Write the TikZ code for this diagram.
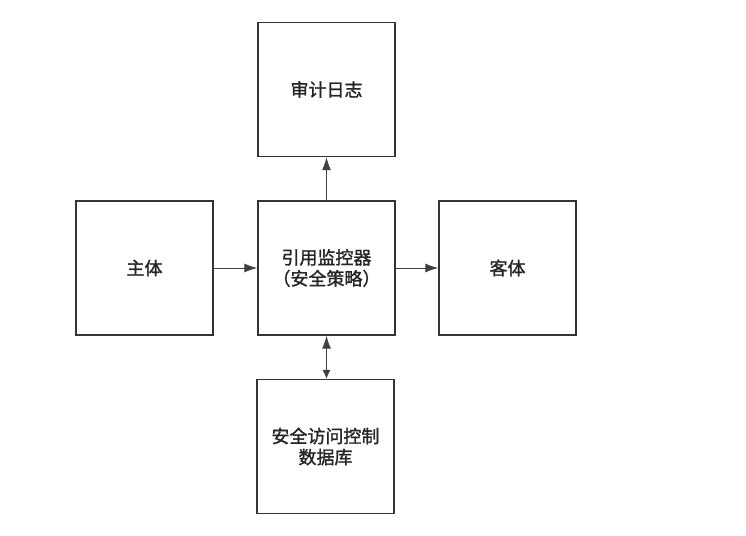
\documentclass[tikz,border=0pt]{standalone}
\usepackage{fontspec}
\setmainfont[FakeBold=1.5]{Noto Sans CJK SC}
\usetikzlibrary{arrows.meta}
\tikzset{
  blockbox/.style={draw=black!80, line width=1.3pt, minimum width=137pt, minimum height=134pt, inner sep=0pt, align=center, font=\fontsize{18}{21}\selectfont, text=black!85},
  conn/.style={draw=black!75, line width=1pt, -{Latex[length=13pt,width=9pt]}},
  dconn/.style={draw=black!75, line width=1pt, {Latex[length=13pt,width=9pt]}-{Latex[length=9pt,width=8pt]}}
}
\begin{document}
\begin{tikzpicture}[x=1pt,y=-1pt]
\useasboundingbox (0,0) rectangle (746,535);
\node[blockbox] (audit) at (326.5,89.5) {审计日志};
\node[blockbox] (subj) at (144.5,268) {主体};
\node[blockbox] (rm) at (326.5,268) {引用监控器\\（安全策略）};
\node[blockbox] (obj) at (507.5,268) {客体};
\node[blockbox] (db) at (325.5,446.5) {安全访问控制\\数据库};
\draw[conn] (subj) -- (rm);
\draw[conn] (rm) -- (obj);
\draw[conn] (rm) -- (audit);
\draw[dconn] (rm.south) -- (rm.south |- db.north);
\end{tikzpicture}
\end{document}
